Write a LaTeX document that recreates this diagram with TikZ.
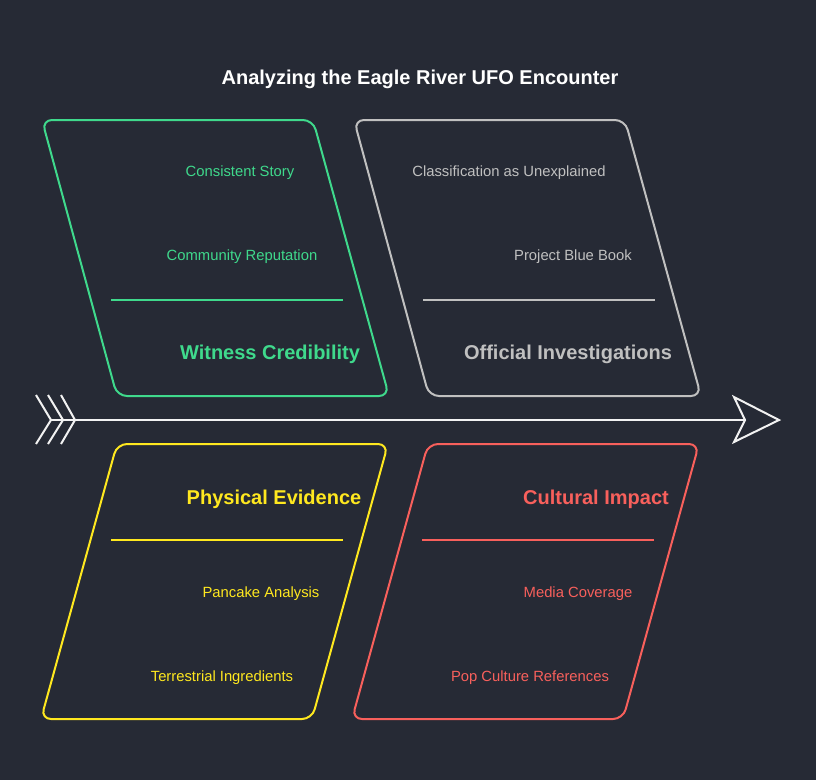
\documentclass[tikz,border=0pt]{standalone}
\usepackage{fontspec}
\setmainfont{Liberation Sans}
\definecolor{bg}{HTML}{262A35}
\definecolor{cgreen}{HTML}{3FD98C}
\definecolor{cgray}{HTML}{C0C0C0}
\definecolor{cyellow}{HTML}{FFE81F}
\definecolor{cred}{HTML}{F8605C}
\definecolor{cwhite}{HTML}{F2F2F2}
\tikzset{
  box/.style={line width=2pt, rounded corners=10pt},
  divider/.style={line width=2pt},
  small/.style={font=\fontsize{14.8}{18}\selectfont, anchor=base, inner sep=0pt},
  head/.style={font=\bfseries\fontsize{20}{24}\selectfont, anchor=base, inner sep=0pt},
  spine/.style={line width=2pt, draw=cwhite},
}
\begin{document}
\begin{tikzpicture}[x=1pt,y=-1pt]
\fill[bg] (0,0) rectangle (816,780);
\useasboundingbox (0,0) rectangle (816,780);

\node[head, text=white] (title) at (420,84) {Analyzing the Eagle River UFO Encounter};

% boxes
\draw[box, cgreen] (42,120) -- (313,120) -- (389,396) -- (117,396) -- cycle;
\draw[box, cgray] (354,120) -- (625,120) -- (701,396) -- (429,396) -- cycle;
\draw[box, cyellow] (117,444) -- (388,444) -- (312,719) -- (41,719) -- cycle;
\draw[box, cred] (428,444) -- (699,444) -- (623,719) -- (352,719) -- cycle;

% dividers
\draw[divider, cgreen] (111,300) -- (343,300);
\draw[divider, cgray] (423,300) -- (655,300);
\draw[divider, cyellow] (111,540) -- (343,540);
\draw[divider, cred] (422,540) -- (654,540);

% texts
\node[small, text=cgreen] (t1) at (240,176.5) {Consistent Story};
\node[small, text=cgreen] (t2) at (242,260.5) {Community Reputation};
\node[head, text=cgreen] (h1) at (270,359.5) {Witness Credibility};

\node[small, text=cgray] (t3) at (509,176.5) {Classification as Unexplained};
\node[small, text=cgray] (t4) at (573,260.5) {Project Blue Book};
\node[head, text=cgray] (h2) at (568,359.5) {Official Investigations};

\node[head, text=cyellow] (h3) at (274,504) {Physical Evidence};
\node[small, text=cyellow] (t5) at (261,597) {Pancake Analysis};
\node[small, text=cyellow] (t6) at (222,681) {Terrestrial Ingredients};

\node[head, text=cred] (h4) at (596,504) {Cultural Impact};
\node[small, text=cred] (t7) at (578,597) {Media Coverage};
\node[small, text=cred] (t8) at (530,681) {Pop Culture References};

% spine
\coordinate (tail) at (51,420);
\coordinate (notch) at (745,420);
\draw[spine] (tail) -- (notch);
\draw[spine, line join=miter] (734,397) -- (779,420) -- (734,442) -- (notch) -- cycle;
\draw[spine, line join=miter] (36,395) -- (tail) -- (36,444);
\draw[spine, line join=miter] (48,395) -- (63,420) -- (48,444);
\draw[spine, line join=miter] (61,395) -- (75,420) -- (61,444);
\end{tikzpicture}
\end{document}
